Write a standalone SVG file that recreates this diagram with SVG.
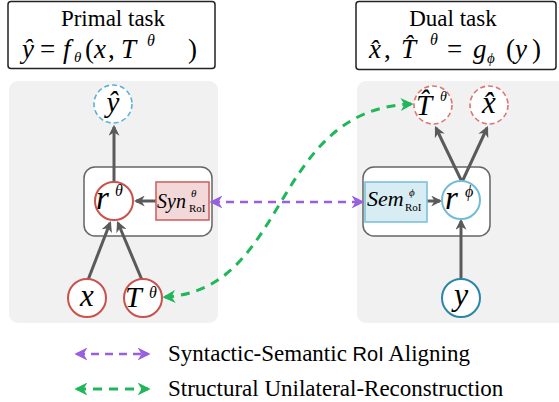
<svg xmlns="http://www.w3.org/2000/svg" width="559" height="402" viewBox="0 0 559 402">
<style>
.serif{font-family:"Liberation Serif","Times New Roman",serif;fill:#000}
.it{font-style:italic}
.panel{fill:#f1f1f1}
.title{fill:#fff;stroke:#222;stroke-width:1.5}
.inner{fill:#fff;stroke:#666;stroke-width:1.5}
.redc{fill:#fff;stroke:#c9524c;stroke-width:2}
.bluec{fill:#fff;stroke:#72bcd8;stroke-width:2}
.tealc{fill:#fff;stroke:#2a86a6;stroke-width:2}
.dblue{fill:#fff;stroke:#5ab2d4;stroke-width:1.6;stroke-dasharray:5 3}
.dred{fill:#fff;stroke:#e07474;stroke-width:1.6;stroke-dasharray:5 3}
.garrow{stroke:#5a5a5a;stroke-width:3;fill:none;marker-end:url(#ag)}
.purp{stroke:#9a5ee0;stroke-width:2.5;fill:none;stroke-dasharray:8 6;marker-start:url(#ap);marker-end:url(#ap)}
.green{stroke:#1fb75a;stroke-width:3;fill:none;stroke-dasharray:9 7;marker-start:url(#agr);marker-end:url(#agr)}
</style>
<defs>
<marker id="ag" viewBox="0 0 10 10" refX="8" refY="5" markerWidth="11" markerHeight="11" markerUnits="userSpaceOnUse" orient="auto-start-reverse"><path d="M0,0 L10,5 L0,10 L3,5 z" fill="#5a5a5a"/></marker>
<marker id="ap" viewBox="0 0 10 10" refX="8" refY="5" markerWidth="13" markerHeight="13" markerUnits="userSpaceOnUse" orient="auto-start-reverse"><path d="M0,0 L10,5 L0,10 L3,5 z" fill="#9a5ee0"/></marker>
<marker id="agr" viewBox="0 0 10 10" refX="8" refY="5" markerWidth="13" markerHeight="13" markerUnits="userSpaceOnUse" orient="auto-start-reverse"><path d="M0,0 L10,5 L0,10 L3,5 z" fill="#1fb75a"/></marker>
</defs>

<g id="panels">
<rect class="panel" x="9" y="81" width="209" height="242" rx="9"/>
<rect class="panel" x="357" y="81" width="212" height="242" rx="9"/>
</g>

<g id="primal-title">
<rect class="title" x="8" y="1.5" width="207" height="67" rx="3"/>
<text class="serif" x="113" y="26" font-size="23" text-anchor="middle">Primal task</text>
<text class="serif" font-size="27" y="58"><tspan class="it" x="22">ŷ</tspan><tspan x="40">=</tspan><tspan class="it" x="63">f</tspan><tspan class="it" x="74" y="62" font-size="15">θ</tspan><tspan x="85" y="58">(</tspan><tspan class="it" x="94">x</tspan><tspan x="108">,</tspan><tspan class="it" x="121">T</tspan><tspan class="it" x="147" y="46" font-size="16">θ</tspan><tspan x="188" y="58">)</tspan></text>
</g>

<g id="dual-title">
<rect class="title" x="356" y="1.5" width="200" height="68" rx="3"/>
<text class="serif" x="453" y="26" font-size="23" text-anchor="middle">Dual task</text>
<text class="serif" font-size="27" y="58"><tspan class="it" x="369">x̂</tspan><tspan x="384">,</tspan><tspan class="it" x="401">T̂</tspan><tspan class="it" x="430" y="45" font-size="16">θ</tspan><tspan x="447" y="58">=</tspan><tspan class="it" x="473">g</tspan><tspan class="it" x="487" y="63" font-size="15">ϕ</tspan><tspan x="506" y="58">(</tspan><tspan class="it" x="515">y</tspan><tspan x="532">)</tspan></text>
</g>

<g id="primal-module">
<rect class="inner" x="84" y="167" width="128" height="69" rx="11"/>
</g>
<g id="dual-module">
<rect class="inner" x="363" y="167" width="127" height="69" rx="11"/>
</g>

<g id="connectors">
<line class="garrow" x1="114" y1="182" x2="114" y2="127"/>
<line class="garrow" x1="156" y1="201" x2="136" y2="201"/>
<line class="garrow" x1="88" y1="280" x2="110" y2="223"/>
<line class="garrow" x1="142" y1="280" x2="118" y2="223"/>
<line class="garrow" x1="427" y1="201" x2="440" y2="201"/>
<line class="garrow" x1="461" y1="279" x2="461" y2="221"/>
<line class="garrow" x1="462" y1="182" x2="436" y2="128"/>
<line class="garrow" x1="462" y1="182" x2="487" y2="128"/>
<line class="purp" x1="212" y1="202" x2="362" y2="202"/>
<path class="green" d="M165,297 C290,290 270,110 411,104"/>
</g>

<g id="y-hat">
<circle class="dblue" cx="113" cy="104" r="19"/>
<text class="serif it" x="113" y="112" font-size="29" text-anchor="middle">ŷ</text>
</g>

<g id="r-theta">
<circle class="redc" cx="114" cy="201" r="19"/>
<text class="serif" y="209"><tspan class="it" x="96" font-size="33">r</tspan><tspan class="it" x="115" y="196" font-size="16">θ</tspan></text>
</g>

<g id="syn-roi">
<rect x="156" y="182" width="53" height="38" fill="#f2d8d8" stroke="#d06464" stroke-width="1.6"/>
<text class="serif" y="208"><tspan class="it" x="157" font-size="20">Syn</tspan><tspan class="it" x="191" y="197" font-size="11">θ</tspan><tspan x="189" y="212" font-size="11">RoI</tspan></text>
</g>

<g id="x-node">
<circle class="redc" cx="87" cy="298" r="19"/>
<text class="serif it" x="87" y="306" font-size="31" text-anchor="middle">x</text>
</g>

<g id="t-theta">
<circle class="redc" cx="143" cy="298" r="19"/>
<text class="serif" y="307"><tspan class="it" x="125" font-size="30">T</tspan><tspan class="it" x="149" y="298" font-size="16">θ</tspan></text>
</g>

<g id="t-hat">
<circle class="dred" cx="433" cy="105" r="19"/>
<text class="serif" y="115"><tspan class="it" x="416" font-size="29">T̂</tspan><tspan class="it" x="440" y="101" font-size="14">θ</tspan></text>
</g>

<g id="x-hat">
<circle class="dred" cx="489" cy="105" r="19"/>
<text class="serif it" x="489" y="113" font-size="31" text-anchor="middle">x̂</text>
</g>

<g id="sem-roi">
<rect x="365" y="182" width="62" height="40" fill="#d8ecf3" stroke="#7cc2d9" stroke-width="1.6"/>
<text class="serif" y="206"><tspan class="it" x="367" font-size="22">Sem</tspan><tspan class="it" x="409" y="196" font-size="11">ϕ</tspan><tspan x="405" y="211" font-size="11">RoI</tspan></text>
</g>

<g id="r-phi">
<circle class="bluec" cx="461" cy="200" r="19"/>
<text class="serif" y="209"><tspan class="it" x="445" font-size="33">r</tspan><tspan class="it" x="465" y="197" font-size="16">ϕ</tspan></text>
</g>

<g id="y-node">
<circle class="tealc" cx="461" cy="298" r="19"/>
<text class="serif it" x="461" y="305" font-size="32" text-anchor="middle">y</text>
</g>

<g id="legend">
<line class="purp" x1="77" y1="354" x2="148" y2="354"/>
<line class="green" x1="77" y1="389" x2="148" y2="389"/>
<text class="serif" x="168" y="361" font-size="23">Syntactic-Semantic <tspan font-family="Liberation Sans,Arial,sans-serif" font-size="20">RoI</tspan> Aligning</text>
<text class="serif" x="168" y="396" font-size="23">Structural Unilateral-Reconstruction</text>
</g>
</svg>
